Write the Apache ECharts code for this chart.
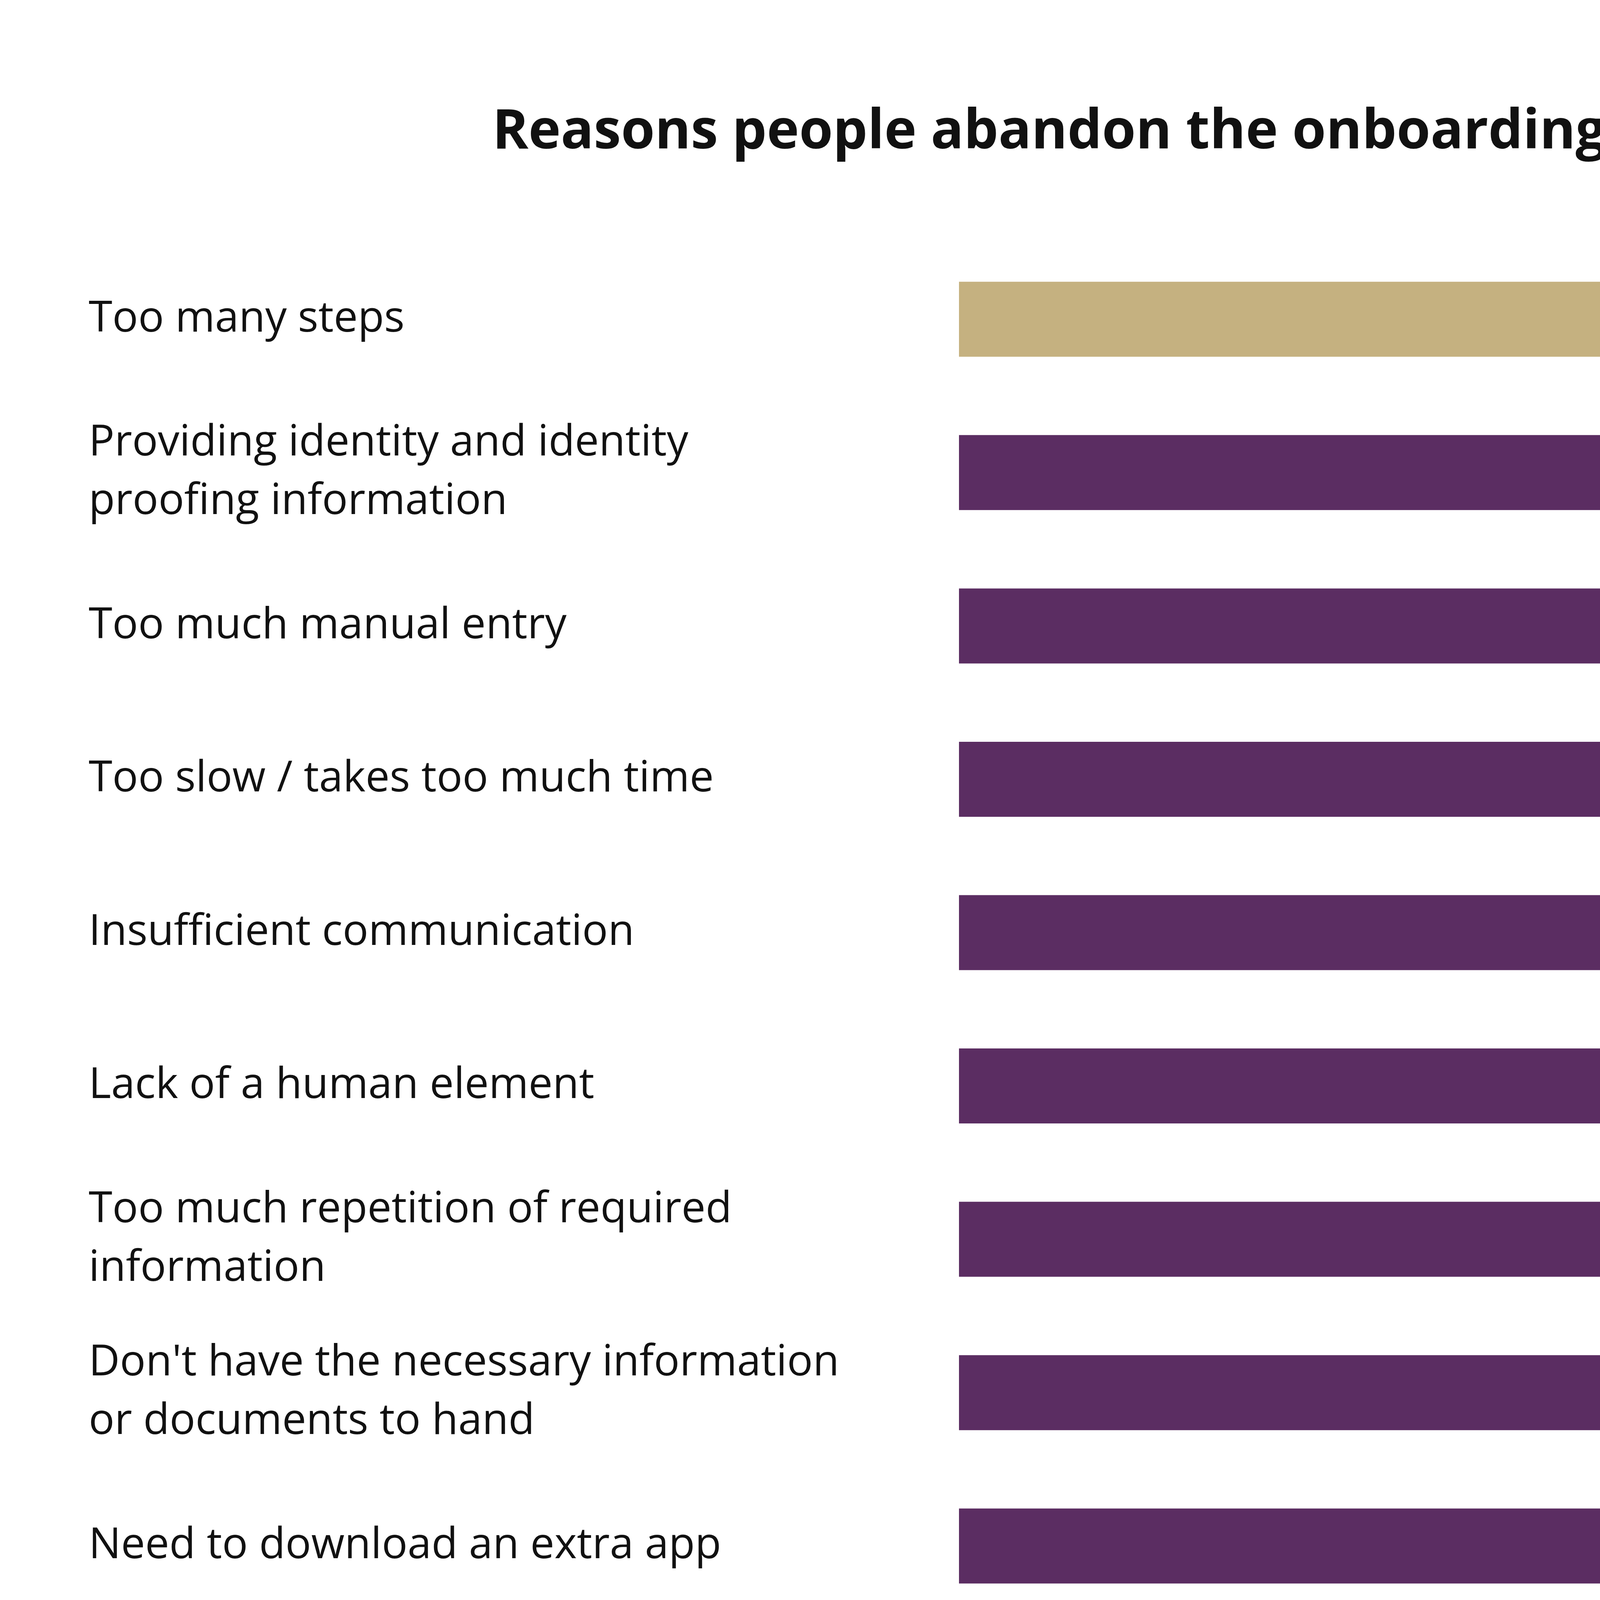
<!DOCTYPE html>
<html>
<head>
<meta charset="utf-8">
<title>Reasons people abandon the onboarding process</title>
<script src="https://cdn.jsdelivr.net/npm/echarts@6/dist/echarts.min.js"></script>
<style>
  html, body { margin: 0; padding: 0; background: #fff; }
  #chart { width: 5760px; height: 4208px; }
</style>
</head>
<body>
<div id="chart"></div>
<script>
// categories, top to bottom
var reasons = [
  'Too many steps',
  'Providing identity and identity\nproofing information',
  'Too much manual entry',
  'Too slow / takes too much time',
  'Insufficient communication',
  'Lack of a human element',
  'Too much repetition of required\ninformation',
  "Don't have the necessary information\nor documents to hand",
  'Need to download an extra app'
];
// bar lengths as drawn in the picture (%)
var barValues = [29, 25.9, 25.9, 25, 25, 23.8, 23.8, 22.5, 18.9];
// percentages printed next to the bars
var printedPct = [29, 26, 26, 25, 25, 24, 24, 21, 18];

var GOLD = '#C5B180';
var PURPLE = '#5B2D62';
var FONT = '"Open Sans"';

var chart = echarts.init(document.getElementById('chart'));

var option = {
  backgroundColor: '#ffffff',
  animation: false,
  title: {
    text: 'Reasons people abandon the onboarding process',
    left: 2966,
    top: 265,
    textAlign: 'center',
    textStyle: {
      fontFamily: FONT,
      fontSize: 140,
      fontWeight: 'bold',
      color: '#111111'
    }
  },
  grid: {
    left: 2455,
    right: 670,
    top: 621,
    bottom: 54,
    containLabel: false
  },
  xAxis: {
    type: 'value',
    min: 0,
    max: 30,
    show: false
  },
  yAxis: {
    type: 'category',
    data: reasons,
    inverse: true,
    axisLine: { show: false },
    axisTick: { show: false },
    splitLine: { show: false },
    axisLabel: {
      margin: 2228,
      align: 'left',
      fontFamily: FONT,
      fontSize: 110,
      lineHeight: 150,
      color: '#111111'
    }
  },
  series: [
    {
      type: 'bar',
      data: barValues,
      barWidth: 192,
      itemStyle: {
        color: function (p) { return p.dataIndex === 0 ? GOLD : PURPLE; }
      },
      label: {
        show: true,
        position: 'right',
        distance: 100,
        fontFamily: FONT,
        fontSize: 100,
        fontWeight: 'bold',
        color: '#111111',
        formatter: function (p) { return printedPct[p.dataIndex] + '%'; }
      }
    }
  ]
};

chart.setOption(option);
</script>
</body>
</html>
